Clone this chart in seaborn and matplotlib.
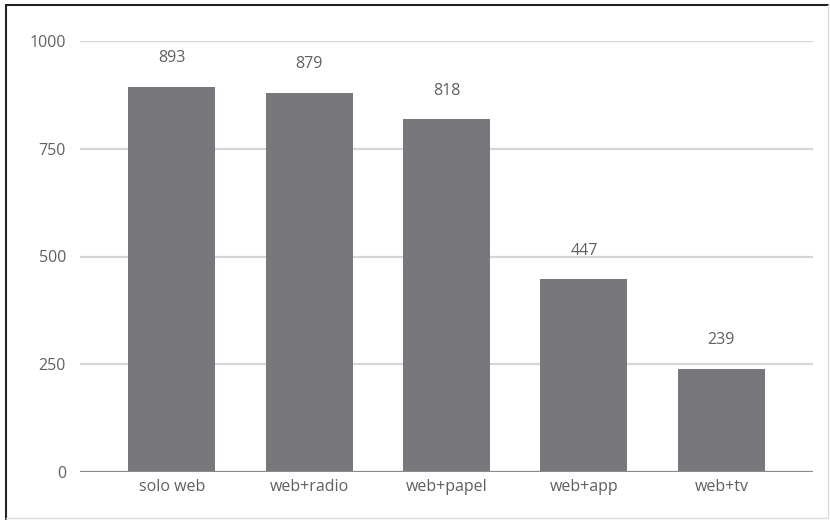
import matplotlib
matplotlib.use("Agg")
import matplotlib.pyplot as plt
import seaborn as sns
import pandas as pd
from matplotlib.lines import Line2D

categories = ["solo web", "web+radio", "web+papel", "web+app", "web+tv"]
values = [893, 879, 818, 447, 239]
yticks = [0, 250, 500, 750, 1000]

sns.set_theme(style="white")
plt.rcParams["font.family"] = ["Open Sans", "DejaVu Sans"]

df = pd.DataFrame({"cat": categories, "val": values})

fig = plt.figure(figsize=(8.3, 5.2), dpi=100)
ax = fig.add_axes([80/830, 1 - 472/520, (813-80)/830, (472-41)/520])

sns.barplot(data=df, x="cat", y="val", color="#78787c", saturation=1,
            width=0.633, ax=ax, zorder=3)
for p in ax.patches:
    p.set_edgecolor("none")

ax.set_xlim(-0.667, 4.667)
ax.set_ylim(0, 1000)
ax.set_yticks(yticks)
ax.set_yticklabels([str(t) for t in yticks])
for t in yticks[1:]:
    ax.axhline(t, color="#d6d6d6", lw=1.6, zorder=1)
ax.axhline(0, color="#8a8a8a", lw=1.6, zorder=4)

for s in ax.spines.values():
    s.set_visible(False)
ax.set_xlabel("")
ax.set_ylabel("")
ax.tick_params(axis="both", length=0, labelsize=11.5, labelcolor="#606060")
ax.tick_params(axis="y", pad=10)
ax.tick_params(axis="x", pad=5)

for i, v in enumerate(values):
    ax.annotate(str(v), (i, v), xytext=(0, 15), textcoords="offset points",
                ha="center", va="bottom", fontsize=11.5, color="#606060")

# figure frame
fig.add_artist(Line2D([6/830, 6/830], [1 - 519/520, 1 - 5/520], color="#222222", lw=1.5, transform=fig.transFigure))
fig.add_artist(Line2D([6/830, 828/830], [1 - 5/520, 1 - 5/520], color="#222222", lw=1.5, transform=fig.transFigure))
fig.add_artist(Line2D([6/830, 828/830], [1 - 518/520, 1 - 518/520], color="#dddddd", lw=1, transform=fig.transFigure))
fig.add_artist(Line2D([828/830, 828/830], [1 - 518/520, 1 - 5/520], color="#dddddd", lw=1, transform=fig.transFigure))

fig.savefig("out.png", dpi=100)
